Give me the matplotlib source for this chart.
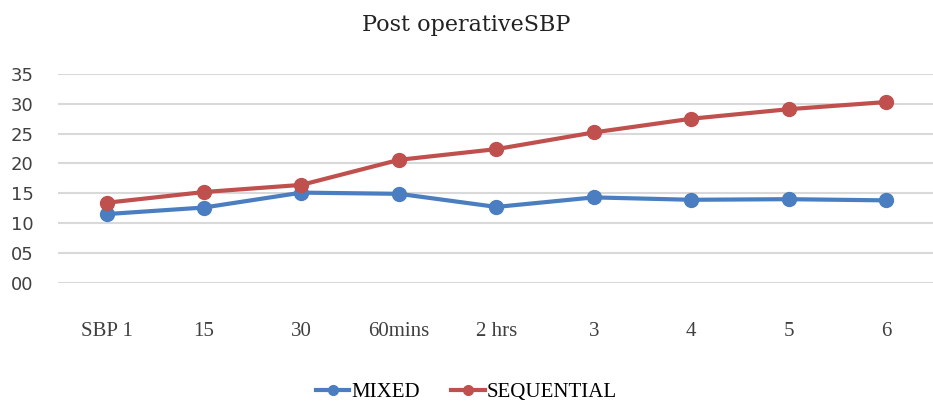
import matplotlib
matplotlib.use("Agg")
import matplotlib.pyplot as plt
import numpy as np

categories = ["SBP 1", "15", "30", "60mins", "2 hrs", "3", "4", "5", "6"]
mixed = [11.5, 12.6, 15.1, 14.9, 12.7, 14.3, 13.9, 14.0, 13.8]
sequential = [13.4, 15.2, 16.4, 20.6, 22.4, 25.2, 27.5, 29.1, 30.3]
yticks = [0, 5, 10, 15, 20, 25, 30, 35]

blue = "#4a7ec0"
red = "#c0504d"

fig = plt.figure(figsize=(9.33, 4.09), dpi=100)
ax = fig.add_axes([0.062, 0.309, 0.940, 0.510])

x = np.arange(len(categories))
ax.plot(x, mixed, "-o", color=blue, lw=3, ms=10, label="MIXED")
ax.plot(x, sequential, "-o", color=red, lw=3, ms=10, label="SEQUENTIAL")

ax.set_xlim(-0.5, len(categories) - 0.5)
ax.set_ylim(0, 35)
ax.set_yticks(yticks)
ax.set_yticklabels(["%02d" % v for v in yticks], family="DejaVu Sans", fontsize=13, color="#404040")
ax.set_xticks(x)
ax.set_xticklabels(categories, family="Liberation Serif", fontsize=15, color="#404040")
ax.tick_params(axis="both", length=0)
ax.tick_params(axis="x", pad=28)
for lbl in ax.get_yticklabels():
    lbl.set_horizontalalignment("left")
ax.yaxis.set_tick_params(pad=34)
ax.grid(axis="y", color="#d9d9d9", lw=1.5)
ax.set_axisbelow(True)
for s in ax.spines.values():
    s.set_visible(False)

fig.text(0.5, 0.94, "Post operativeSBP", ha="center", va="center",
         family="DejaVu Serif", fontsize=16, color="#222222")

fig.legend(loc="center", bbox_to_anchor=(0.5, 0.04), ncol=2, frameon=False,
           prop={"family": "Liberation Serif", "size": 15}, handlelength=1.6,
           columnspacing=1.5, handletextpad=0.1, markerscale=0.7)

fig.savefig("out.png", dpi=100)
